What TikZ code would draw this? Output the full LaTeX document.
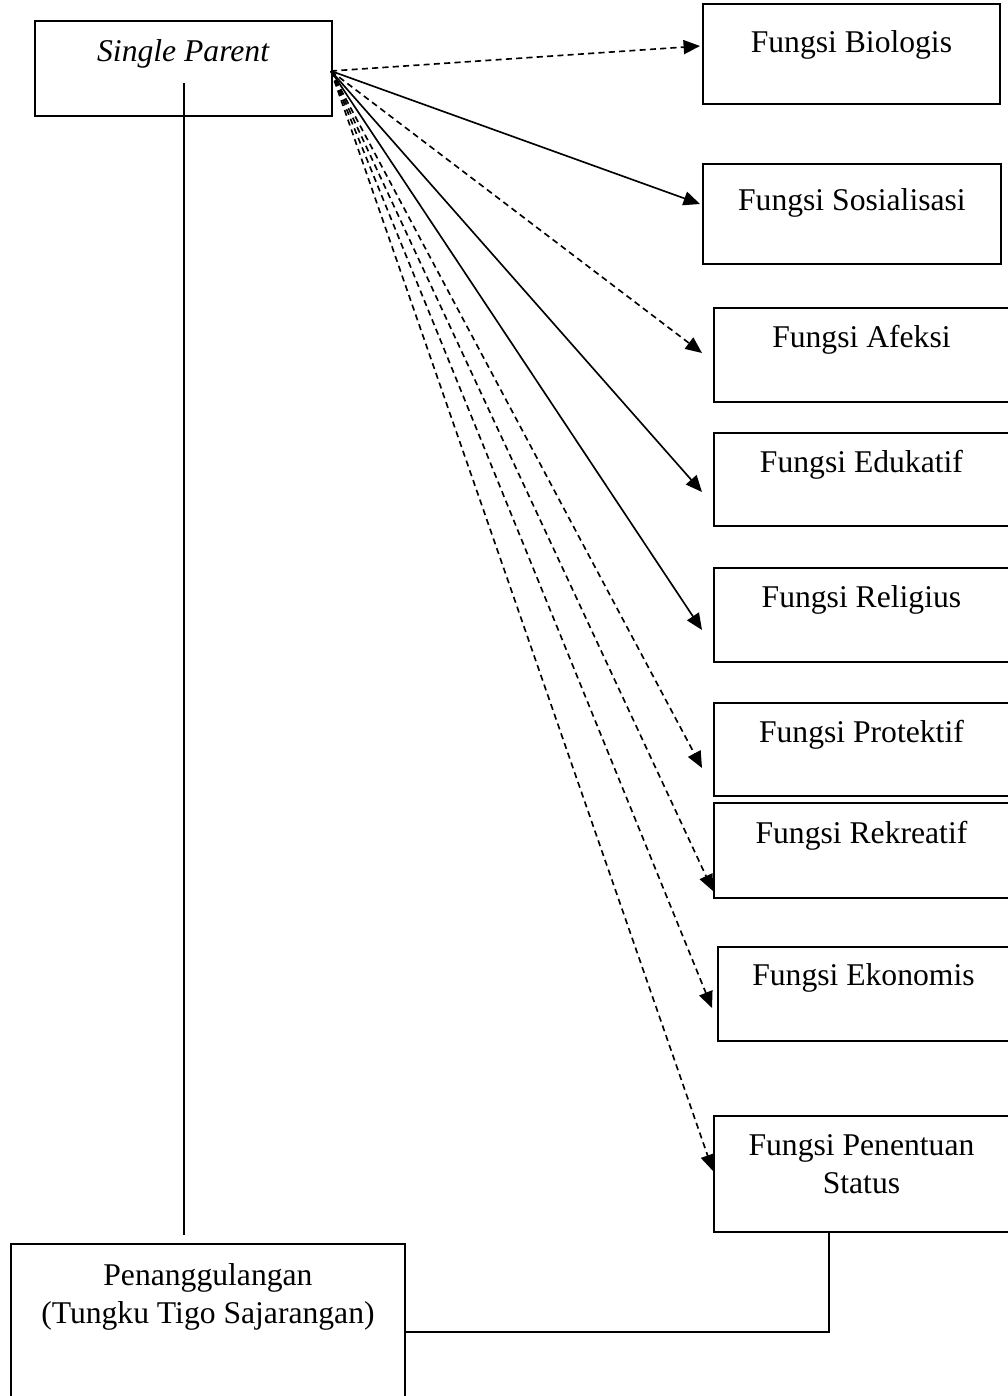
\documentclass[tikz,border=0pt]{standalone}
\usepackage{fontspec}
\setmainfont{Liberation Serif}
\usepackage{tikz}
\usetikzlibrary{arrows.meta, positioning}

\tikzset{
	fbox/.style={draw, line width=0.8pt, anchor=north west, inner sep=0pt, align=center, minimum width=#1},
	arr/.style={line width=0.7pt, -{Triangle[length=7pt, width=6pt]}},
	dsh/.style={arr, dash pattern=on 2.6pt off 1.8pt}
}

\begin{document}
\begin{tikzpicture}[x=0.015cm, y=-0.015cm, font=\fontsize{13.5}{16.2}\selectfont]
	\useasboundingbox (0,0) rectangle (1008,1396);
	\node[fbox=4.455cm, text height=.615cm, text depth=.81cm] (sp) at (34,20) {\textit{Single Parent}};
	\node[fbox=4.455cm, text height=.735cm, text depth=.765cm] (bio) at (702,3) {Fungsi Biologis};
	\node[fbox=4.47cm, text height=.705cm, text depth=.795cm] (sos) at (702,163) {Fungsi Sosialisasi};
	\node[fbox=4.425cm, text height=.6cm, text depth=.81cm] (afe) at (713,307) {Fungsi Afeksi};
	\node[fbox=4.425cm, text height=.6cm, text depth=.795cm] (edu) at (713,432) {Fungsi Edukatif};
	\node[fbox=4.425cm, text height=.6cm, text depth=.81cm] (rel) at (713,567) {Fungsi Religius};
	\node[fbox=4.425cm, text height=.6cm, text depth=.795cm] (pro) at (713,702) {Fungsi Protektif};
	\node[fbox=4.425cm, text height=.615cm, text depth=.81cm] (rek) at (713,802) {Fungsi Rekreatif};
	\node[fbox=4.365cm, text height=.585cm, text depth=.825cm] (eko) at (717,946) {Fungsi Ekonomis};
	\node[fbox=4.425cm, text height=1.17cm, text depth=.57cm] (pen) at (713,1115) {Fungsi Penentuan\\Status};
	\node[fbox=5.91cm, text height=1.2cm, text depth=1.44cm] (pan) at (10,1243) {Penanggulangan\\(Tungku Tigo Sajarangan)};

	% ujung panah
	\coordinate (src) at (331,71);
	\coordinate (tbio) at (700,46);
	\coordinate (tsos) at (700,204);
	\coordinate (tafe) at (702,353);
	\coordinate (tedu) at (702,492);
	\coordinate (trel) at (702,630);
	\coordinate (tpro) at (702,768);
	\coordinate (trek) at (713,891);
	\coordinate (teko) at (712,1008);
	\coordinate (tpen) at (713,1171);

	\path
		(src) edge [dsh] (tbio)
		(src) edge [arr] (tsos)
		(src) edge [dsh] (tafe)
		(src) edge [arr] (tedu)
		(src) edge [arr] (trel)
		(src) edge [dsh] (tpro)
		(src) edge [dsh] (trek)
		(src) edge [dsh] (teko)
		(src) edge [dsh] (tpen)
	;

	% garis ke penanggulangan
	\coordinate (spin) at (184,83);
	\coordinate (spout) at (184,1235);
	\coordinate (penout) at (829,1231);
	\draw[line width=0.7pt] (spin) -- (spout);
	\draw[line width=0.7pt] (penout) |- (pan.east);
\end{tikzpicture}
\end{document}
